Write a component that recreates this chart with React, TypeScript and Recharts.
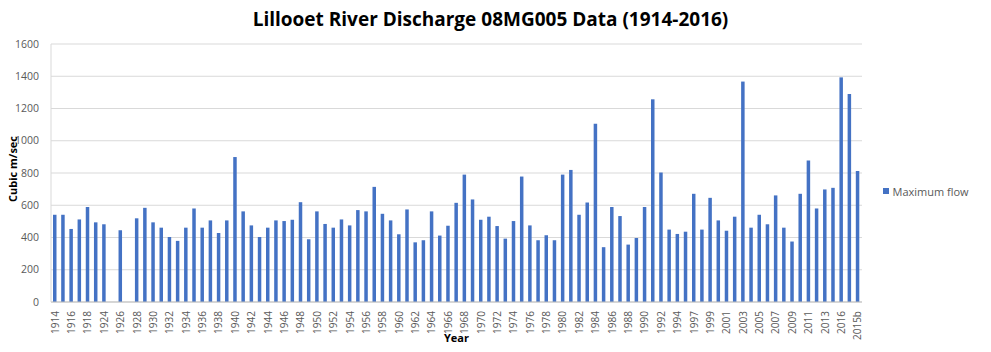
import { Bar, BarChart, CartesianGrid, XAxis, YAxis } from "recharts";

const years = [
  "1914", "1915", "1916", "1917", "1918", "1919", "1924", "1925", "1926", "1927",
  "1928", "1929", "1930", "1931", "1932", "1933", "1934", "1935", "1936", "1937",
  "1938", "1939", "1940", "1941", "1942", "1943", "1944", "1945", "1946", "1947",
  "1948", "1949", "1950", "1951", "1952", "1953", "1954", "1955", "1956", "1957",
  "1958", "1959", "1960", "1961", "1962", "1963", "1964", "1965", "1966", "1967",
  "1968", "1969", "1970", "1971", "1972", "1973", "1974", "1975", "1976", "1977",
  "1978", "1979", "1980", "1981", "1982", "1983", "1984", "1985", "1986", "1987",
  "1988", "1989", "1990", "1991", "1992", "1993", "1994", "1995", "1997", "1998",
  "1999", "2000", "2001", "2002", "2003", "2004", "2005", "2006", "2007", "2008",
  "2009", "2010", "2011", "2012", "2013", "2014", "2016", "2015", "2015b",
];

// m³/s; null = no record
const maxFlow: (number | null)[] = [
  541, 541, 453, 512, 589, 494, 482, null, 445, null,
  519, 584, 494, 461, 403, 379, 461, 580, 461, 506,
  428, 506, 899, 562, 475, 403, 461, 506, 502, 510,
  619, 389, 562, 484, 461, 512, 475, 570, 562, 714,
  547, 506, 420, 574, 370, 383, 562, 412, 473, 615,
  790, 636, 510, 529, 471, 393, 502, 778, 475, 383,
  414, 383, 790, 819, 541, 617, 1105, 340, 589, 533,
  356, 397, 589, 1257, 803, 449, 422, 436, 671, 449,
  646, 506, 442, 529, 1367, 461, 541, 482, 661, 461,
  375, 671, 877, 580, 698, 708, 1393, 1290, 813,
];

const yTicks = [0, 200, 400, 600, 800, 1000, 1200, 1400, 1600];

const data = years.map((year, i) => ({ year, flow: maxFlow[i] }));

const BLUE = "#4472C4";
const FONT = "'Open Sans', 'Liberation Sans', sans-serif";

function YearTick({ x, y, payload }: { x?: number; y?: number; payload?: { value: string } }) {
  return (
    <text
      x={x}
      y={y}
      transform={`rotate(-90, ${x}, ${y})`}
      textAnchor="end"
      dy="0.35em"
      fontSize={10}
      fontFamily={FONT}
      fill="#595959"
    >
      {payload?.value}
    </text>
  );
}

export default function App() {
  return (
    <div style={{ position: "relative", width: 975, height: 336 }}>
      <BarChart
        width={975}
        height={336}
        data={data}
        margin={{ top: 36, right: 121, bottom: 0, left: 0 }}
        barSize={3.5}
      >
        <CartesianGrid stroke="#d9d9d9" vertical={false} />
        <XAxis
          dataKey="year"
          interval={1}
          height={42}
          tickLine={false}
          tickSize={0}
          tickMargin={9}
          stroke="#bfbfbf"
          tick={<YearTick />}
          label={{
            value: "Year",
            position: "insideBottom",
            offset: 2,
            fontSize: 11,
            fontWeight: "bold",
            fontFamily: FONT,
            fill: "#000",
          }}
        />
        <YAxis
          width={43}
          domain={[0, 1600]}
          ticks={yTicks}
          tickLine={false}
          tickSize={0}
          tickMargin={12}
          stroke="#d9d9d9"
          tick={{ fontSize: 10.5, fontFamily: FONT, fill: "#595959" }}
        />
        <Bar dataKey="flow" name="Maximum flow" fill={BLUE} isAnimationActive={false} />
      </BarChart>
      {/* title, y label and legend in page coordinates */}
      <svg
        width={991}
        height={352}
        style={{ position: "absolute", left: -8, top: -8, pointerEvents: "none" }}
      >
        <text x={490.5} y={26} textAnchor="middle" fontSize={19} fontWeight="bold" fontFamily={FONT} fill="#000">
          Lillooet River Discharge 08MG005 Data (1914-2016)
        </text>
        <text
          x={12}
          y={169}
          transform="rotate(-90, 12, 169)"
          textAnchor="middle"
          dominantBaseline="central"
          fontSize={11}
          fontWeight="bold"
          fontFamily={FONT}
          fill="#000"
        >
          Cubic m/sec
        </text>
        <rect x={883} y={188} width={6} height={6} fill={BLUE} />
        <text x={892.5} y={191} dominantBaseline="central" fontSize={11} fontFamily={FONT} fill="#595959">
          Maximum flow
        </text>
      </svg>
    </div>
  );
}
